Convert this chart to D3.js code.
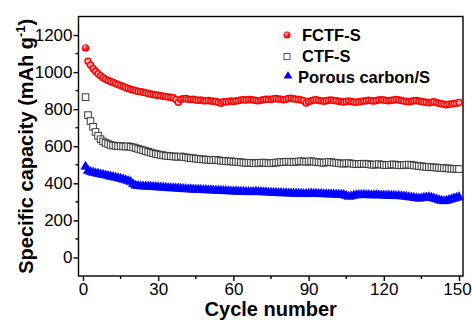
<!DOCTYPE html>
<html><head><meta charset="utf-8">
<script src="https://cdn.jsdelivr.net/npm/d3@7"></script>
<style>body{margin:0;background:#fff} svg{display:block} text{font-family:"Liberation Sans",Arial,sans-serif}</style>
</head><body><svg id="c" width="472" height="320"></svg>
<script>
const seriesNames = ["FCTF-S", "CTF-S", "Porous carbon/S"];
const xTicks = [0, 30, 60, 90, 120, 150];
const yTicks = [0, 200, 400, 600, 800, 1000, 1200];
const cycles = d3.range(1, 151);
const fctf = [
1130,1058,1038,1020,1004,991,980,970,962,955,
949,944,939,933,928,922,917,912,908,904,
900,897,894,891,888,885,882,879,877,875,
872,870,868,866,864,861,852,838,853,856,
857,854,852,853,850,848,849,846,845,847,
844,843,842,838,832,840,839,842,844,841,
844,847,849,851,850,852,851,849,847,845,
848,851,853,854,852,856,858,855,853,851,
854,857,859,856,854,852,850,846,834,842,
846,849,851,847,845,843,846,848,850,847,
845,843,841,839,842,844,841,839,837,840,
842,844,846,848,846,844,847,849,851,849,
847,845,848,850,852,849,847,844,842,840,
843,845,847,844,842,839,837,835,838,840,
836,832,829,826,824,826,828,830,832,836];
const ctf = [
865,768,736,705,677,656,638,626,618,612,
607,604,602,600,601,599,598,600,597,594,
590,586,582,578,574,570,566,562,559,556,
553,551,549,547,546,545,544,543,545,542,
540,538,536,535,533,532,530,529,528,527,
526,525,527,524,522,521,520,518,519,517,
516,515,513,512,511,510,511,509,508,510,
511,512,510,509,508,510,512,513,515,514,
516,517,515,514,516,518,519,517,516,518,
519,517,515,514,512,511,513,515,514,512,
510,509,507,506,508,509,507,505,504,503,
505,506,504,503,501,500,502,503,501,500,
498,499,501,502,500,498,497,499,500,501,
499,497,495,493,492,490,489,488,487,486,
485,484,483,482,481,480,479,478,478,477];
const porous = [
490,468,462,458,455,452,449,446,443,440,
437,434,431,428,425,421,417,413,408,396,
388,386,385,384,383,383,382,381,380,379,
378,377,376,375,374,374,373,372,371,370,
369,368,368,367,366,366,365,364,364,363,
363,362,361,361,360,359,359,358,357,357,
356,356,355,355,354,354,353,354,355,354,
353,352,352,351,350,350,349,348,348,347,
347,346,346,345,345,344,344,343,343,344,
345,344,344,343,343,342,342,341,341,340,
340,339,339,338,333,328,330,334,336,337,
338,338,337,337,336,336,337,336,335,335,
334,334,333,333,332,332,331,330,328,326,
324,322,320,318,320,322,324,326,323,318,
314,310,306,304,306,310,314,318,322,326];

const svg = d3.select("#c");
const L = 78.5, R = 463, T = 16.5, B = 276;
const x = d3.scaleLinear().domain([-1.8, 151.6]).range([L, R]);
const y = d3.scaleLinear().domain([-100, 1300]).range([B, T]);
const font = '"Liberation Sans",Arial,sans-serif';

// axes
const gx = svg.append("g").attr("transform", `translate(0,${B})`)
  .call(d3.axisBottom(x).tickValues(xTicks).tickSize(5).tickPadding(2).tickSizeOuter(0).tickFormat(d3.format("d")));
const gy = svg.append("g").attr("transform", `translate(${L},0)`)
  .call(d3.axisLeft(y).tickValues(yTicks).tickSize(5).tickPadding(1).tickSizeOuter(0).tickFormat(d3.format("d")));
[gx, gy].forEach(g => {
  g.select(".domain").remove();
  g.selectAll("line").attr("stroke", "#000").attr("stroke-width", 1.4);
  g.selectAll("text").attr("font-size", 17).attr("font-family", font).attr("fill", "#000");
});
gx.selectAll(".tick text").filter(d => d === 150).attr("dx", -2);
// minor ticks
const xMinor = xTicks.slice(0, -1).map((v, i) => (v + xTicks[i + 1]) / 2);
const yMinor = yTicks.map(v => v + 100).slice(0, -1);
svg.append("g").selectAll("line").data(xMinor).join("line")
  .attr("x1", d => x(d)).attr("x2", d => x(d)).attr("y1", B).attr("y2", B + 3)
  .attr("stroke", "#000").attr("stroke-width", 1.4);
svg.append("g").selectAll("line").data(yMinor).join("line")
  .attr("y1", d => y(d)).attr("y2", d => y(d)).attr("x1", L).attr("x2", L - 3)
  .attr("stroke", "#000").attr("stroke-width", 1.4);
// frame
svg.append("rect").attr("x", L).attr("y", T).attr("width", R - L).attr("height", B - T)
  .attr("fill", "none").attr("stroke", "#000").attr("stroke-width", 1.4);

// axis titles
svg.append("text").attr("x", (L + R) / 2).attr("y", 316).attr("text-anchor", "middle")
  .attr("font-size", 20).attr("font-weight", "bold").text("Cycle number");
const yt = svg.append("text").attr("transform", `translate(33,${(T + B) / 2}) rotate(-90)`)
  .attr("text-anchor", "middle").attr("font-size", 20).attr("font-weight", "bold");
yt.append("tspan").text("Specific capacity (mAh g");
yt.append("tspan").attr("font-size", 13).attr("dy", -8).text("-1");
yt.append("tspan").attr("dy", 8).text(")");

// gradient for ball
const defs = svg.append("defs");
const rg = defs.append("radialGradient").attr("id", "ball").attr("cx", "40%").attr("cy", "35%").attr("r", "65%");
rg.append("stop").attr("offset", "0%").attr("stop-color", "#ffd0d0");
rg.append("stop").attr("offset", "45%").attr("stop-color", "#ff2020");
rg.append("stop").attr("offset", "100%").attr("stop-color", "#e00000");

// series
const tri = d3.symbol().type(d3.symbolTriangle).size(38);
svg.append("g").selectAll("path").data(cycles).join("path")
  .attr("d", tri).attr("transform", (c, i) => `translate(${x(c)},${y(porous[i])})`)
  .attr("fill", "#0000ff").attr("stroke", "#0000ff").attr("stroke-width", 0.6);
svg.append("g").selectAll("rect").data(cycles).join("rect")
  .attr("x", (c) => x(c) - 3.3).attr("y", (c, i) => y(ctf[i]) - 3.3).attr("width", 6.6).attr("height", 6.6)
  .attr("fill", "#fff").attr("stroke", "#3a3a3a").attr("stroke-width", 1);
svg.append("g").selectAll("circle").data(cycles).join("circle")
  .attr("cx", c => x(c)).attr("cy", (c, i) => y(fctf[i]))
  .attr("r", (c, i) => i === 0 ? 3.8 : 3)
  .attr("fill", (c, i) => i === 0 ? "url(#ball)" : "#ffbcbc")
  .attr("stroke", (c, i) => i === 0 ? "none" : "#ff0000").attr("stroke-width", 1.5);

// legend
const lg = svg.append("g");
const ly = [35, 56.5, 77];
const lx = [302, 302, 298];
lg.append("circle").attr("cx", 287).attr("cy", ly[0]).attr("r", 3.6).attr("fill", "url(#ball)");
lg.append("rect").attr("x", 284).attr("y", ly[1] - 3).attr("width", 6).attr("height", 6)
  .attr("fill", "#fff").attr("stroke", "#555").attr("stroke-width", 1);
lg.append("path").attr("d", d3.symbol().type(d3.symbolTriangle).size(34)())
  .attr("transform", `translate(288,${ly[2] - 1})`).attr("fill", "#0000ff");
seriesNames.forEach((n, i) => {
  lg.append("text").attr("x", lx[i]).attr("y", ly[i]).attr("dy", "0.36em")
    .attr("font-size", 16.5).attr("font-weight", "bold").text(n);
});
</script></body></html>
